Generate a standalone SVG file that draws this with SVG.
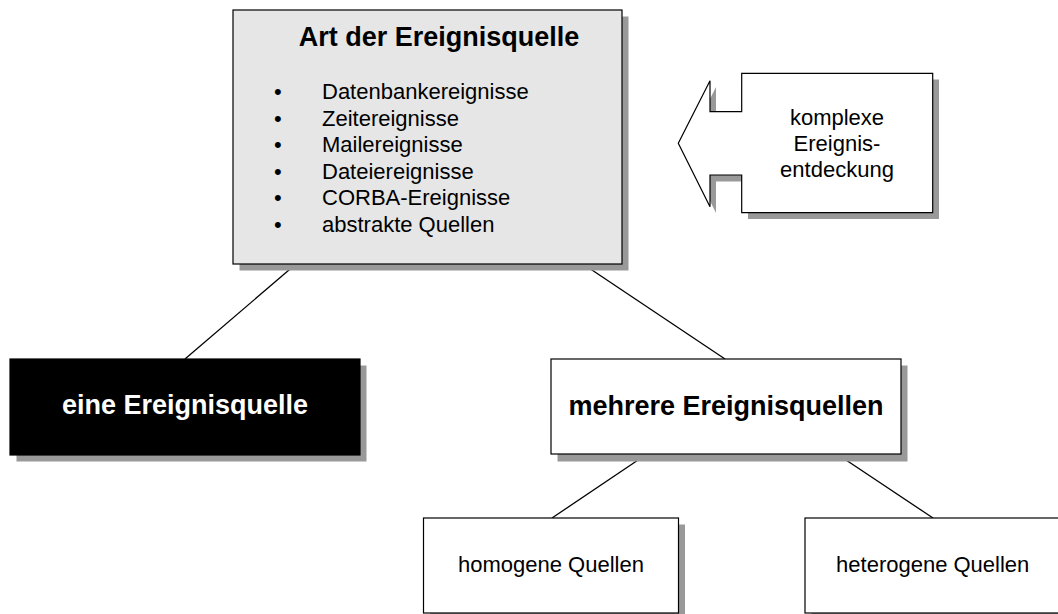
<svg xmlns="http://www.w3.org/2000/svg" width="1058" height="614" viewBox="0 0 1058 614">
<defs>
<style>
.shadow{fill:#999999;stroke:none}
.box{stroke:#000;stroke-width:1.2}
.conn{stroke:#000;stroke-width:1.3;fill:none}
.t{font-family:"Liberation Sans",Arial,sans-serif;font-size:22px;fill:#000}
.tb{font-family:"Liberation Sans",Arial,sans-serif;font-size:27px;font-weight:bold}
.mid{text-anchor:middle}
</style>
</defs>
<rect width="1058" height="614" fill="#ffffff"/>
<g id="connectors">
<line class="conn" x1="296" y1="264" x2="185" y2="359"/>
<line class="conn" x1="583" y1="264" x2="725" y2="359"/>
<line class="conn" x1="647" y1="454" x2="552" y2="518"/>
<line class="conn" x1="837" y1="454" x2="933" y2="518"/>
</g>
<g id="art-der-ereignisquelle">
<rect class="shadow" x="239.5" y="16.5" width="389" height="254"/>
<rect class="box" x="233" y="10" width="389" height="254" fill="#e6e6e6"/>
<text class="tb mid" x="439" y="46" fill="#000">Art der Ereignisquelle</text>
<g class="t">
<text x="274" y="99">•</text><text x="322" y="99">Datenbankereignisse</text>
<text x="274" y="125.6">•</text><text x="322" y="125.6">Zeitereignisse</text>
<text x="274" y="152.2">•</text><text x="322" y="152.2">Mailereignisse</text>
<text x="274" y="178.8">•</text><text x="322" y="178.8">Dateiereignisse</text>
<text x="274" y="205.4">•</text><text x="322" y="205.4">CORBA-Ereignisse</text>
<text x="274" y="232">•</text><text x="322" y="232">abstrakte Quellen</text>
</g>
</g>
<g id="komplexe-ereignisentdeckung">
<path class="shadow" d="M748,79.5 H939 V219 H748 V181.5 H716 V213 L684.5,149.5 L716,87 V118 H748 Z"/>
<path class="box" fill="#ffffff" d="M741.7,73.3 H932.7 V212.7 H741.7 V175 H710 V206.7 L678.3,143.3 L710,80.7 V111.7 H741.7 Z"/>
<text class="t mid" x="837" y="125">komplexe</text>
<text class="t mid" x="837" y="151">Ereignis-</text>
<text class="t mid" x="837" y="177">entdeckung</text>
</g>
<g id="eine-ereignisquelle">
<rect class="shadow" x="16.5" y="365.5" width="350" height="96"/>
<rect class="box" x="10" y="359" width="350" height="96" fill="#000000"/>
<text class="tb mid" x="185" y="414" fill="#ffffff">eine Ereignisquelle</text>
</g>
<g id="mehrere-ereignisquellen">
<rect class="shadow" x="557.5" y="365.5" width="350" height="96"/>
<rect class="box" x="551" y="359" width="350" height="95" fill="#ffffff"/>
<text class="tb mid" x="726" y="415" fill="#000">mehrere Ereignisquellen</text>
</g>
<g id="homogene-quellen">
<rect class="shadow" x="430" y="524.5" width="255" height="96"/>
<rect class="box" x="423.5" y="518" width="255" height="95" fill="#ffffff"/>
<text class="t mid" x="551" y="572">homogene Quellen</text>
</g>
<g id="heterogene-quellen">
<rect class="shadow" x="811.5" y="524.5" width="255" height="96"/>
<rect class="box" x="805" y="518" width="255" height="95" fill="#ffffff"/>
<text class="t mid" x="932.7" y="572">heterogene Quellen</text>
</g>
</svg>
